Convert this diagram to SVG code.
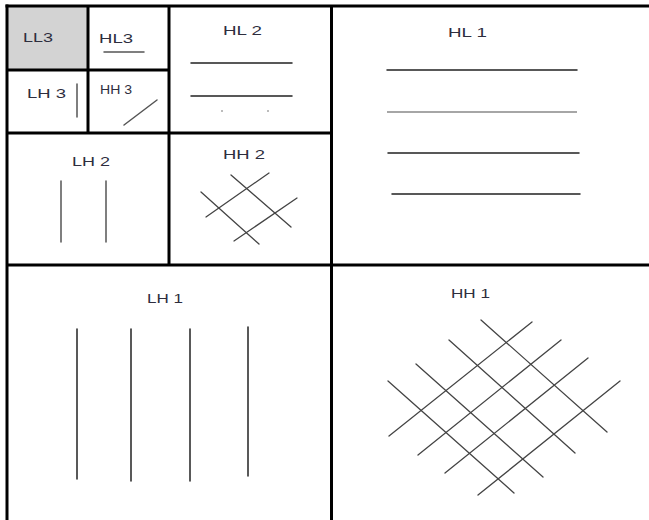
<svg xmlns="http://www.w3.org/2000/svg" width="649" height="520" viewBox="0 0 649 520">
<style>
.frame{stroke:#000;stroke-width:3;fill:none}
.lbl{font-family:"Liberation Sans",Arial,sans-serif;font-size:13px;fill:#2e2e3e}
.ln{stroke:#222;stroke-width:1.5;fill:none;stroke-linecap:round}
.lg{stroke:#555;stroke-width:1.5;fill:none;stroke-linecap:round}
.hatch{stroke:#444;stroke-width:1.3;fill:none;stroke-linecap:round}
</style>
<rect width="649" height="520" fill="#fff"/>
<g id="LL3">
<rect x="7" y="6" width="81" height="64" fill="#d3d3d3"/>
<text class="lbl" x="23" y="42" textLength="30" lengthAdjust="spacingAndGlyphs">LL3</text>
</g>
<g id="HL3">
<text class="lbl" x="99" y="43" textLength="34" lengthAdjust="spacingAndGlyphs">HL3</text>
<line class="lg" x1="104" y1="52" x2="144" y2="52"/>
</g>
<g id="LH3">
<text class="lbl" x="27" y="98" textLength="39" lengthAdjust="spacingAndGlyphs">LH 3</text>
<line class="lg" x1="77" y1="84" x2="77" y2="117"/>
</g>
<g id="HH3">
<text class="lbl" x="100" y="94" textLength="32" lengthAdjust="spacingAndGlyphs">HH 3</text>
<line class="lg" x1="124" y1="125" x2="157" y2="100"/>
</g>
<g id="HL2">
<text class="lbl" x="223" y="35" textLength="39" lengthAdjust="spacingAndGlyphs">HL 2</text>
<line class="ln" x1="191" y1="63" x2="292" y2="63"/>
<line class="ln" x1="191" y1="96" x2="292" y2="96"/>
<circle cx="222" cy="111" r="0.8" fill="#666"/>
<circle cx="268" cy="111" r="0.8" fill="#666"/>
</g>
<g id="LH2">
<text class="lbl" x="72" y="166" textLength="38" lengthAdjust="spacingAndGlyphs">LH 2</text>
<line class="lg" x1="61" y1="181" x2="61" y2="242"/>
<line class="lg" x1="106" y1="181" x2="106" y2="242"/>
</g>
<g id="HH2">
<text class="lbl" x="223" y="159" textLength="42" lengthAdjust="spacingAndGlyphs">HH 2</text>
<line class="hatch" x1="201" y1="192" x2="259" y2="244"/>
<line class="hatch" x1="231" y1="175" x2="291" y2="227"/>
<line class="hatch" x1="206" y1="217" x2="269" y2="173"/>
<line class="hatch" x1="234" y1="241" x2="297" y2="198"/>
</g>
<g id="HL1">
<text class="lbl" x="448" y="37" textLength="39" lengthAdjust="spacingAndGlyphs">HL 1</text>
<line class="ln" x1="387" y1="70" x2="577" y2="70"/>
<line x1="387" y1="112" x2="577" y2="112" stroke="#888" stroke-width="1.3"/>
<line class="ln" x1="388" y1="153" x2="579" y2="153"/>
<line class="ln" x1="392" y1="194" x2="580" y2="194"/>
</g>
<g id="LH1">
<text class="lbl" x="147" y="303" textLength="36" lengthAdjust="spacingAndGlyphs">LH 1</text>
<line class="ln" x1="77" y1="329" x2="77" y2="479"/>
<line class="ln" x1="131" y1="329" x2="131" y2="481"/>
<line class="ln" x1="190" y1="329" x2="190" y2="481"/>
<line class="ln" x1="248" y1="327" x2="248" y2="476"/>
</g>
<g id="HH1">
<text class="lbl" x="451" y="298" textLength="39" lengthAdjust="spacingAndGlyphs">HH 1</text>
<line class="hatch" x1="481" y1="320" x2="607" y2="432"/>
<line class="hatch" x1="449" y1="340" x2="575" y2="453"/>
<line class="hatch" x1="416" y1="364" x2="543" y2="477"/>
<line class="hatch" x1="388" y1="381" x2="514" y2="493"/>
<line class="hatch" x1="389" y1="436" x2="532" y2="322"/>
<line class="hatch" x1="418" y1="455" x2="561" y2="340"/>
<line class="hatch" x1="445" y1="473" x2="588" y2="358"/>
<line class="hatch" x1="478" y1="495" x2="620" y2="381"/>
</g>
<g id="grid">
<line class="frame" x1="5.5" y1="6" x2="649" y2="6"/>
<line class="frame" x1="7" y1="4.5" x2="7" y2="520"/>
<line class="frame" x1="331.5" y1="6" x2="331.5" y2="520"/>
<line class="frame" x1="7" y1="265" x2="649" y2="265"/>
<line class="frame" x1="169" y1="6" x2="169" y2="265"/>
<line class="frame" x1="7" y1="133" x2="331.5" y2="133"/>
<line class="frame" x1="88" y1="6" x2="88" y2="133"/>
<line class="frame" x1="7" y1="70" x2="169" y2="70"/>
</g>
</svg>
